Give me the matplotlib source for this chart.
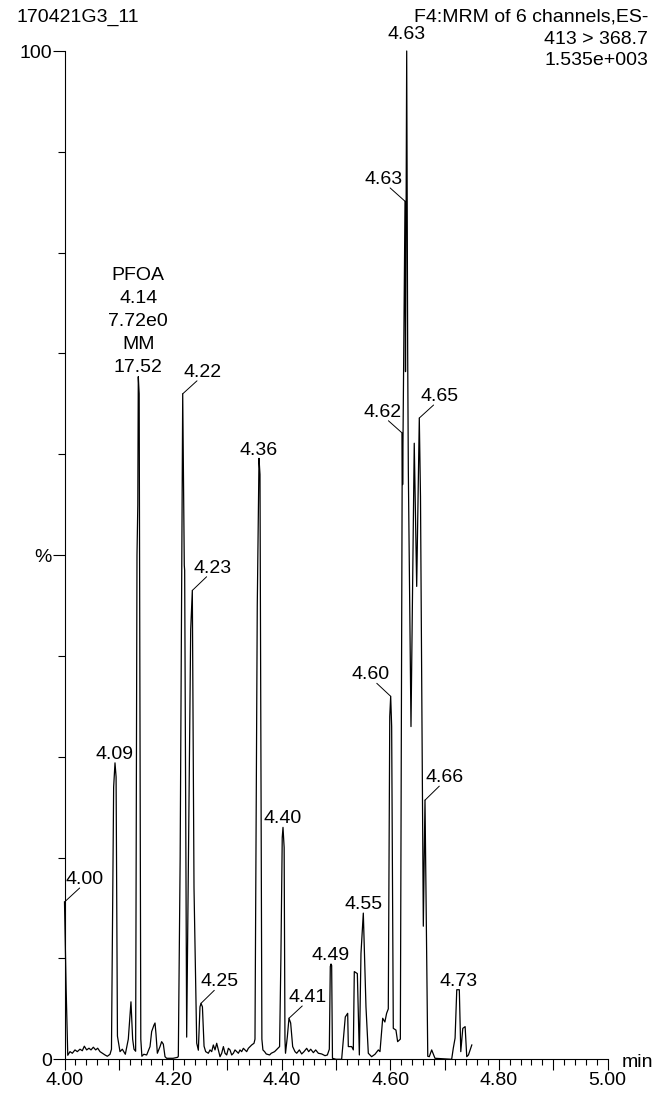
import matplotlib
matplotlib.use("Agg")
import matplotlib.pyplot as plt
from matplotlib.ticker import MultipleLocator, FixedLocator, FuncFormatter

plt.rcParams['font.family'] = ['Liberation Sans', 'DejaVu Sans']
plt.rcParams['font.size'] = 14

# -- trace: retention time (min) and relative intensity (%) --
rt = [
    4.000, 4.003, 4.006, 4.0101, 4.0144, 4.0193, 4.0236, 4.0285, 4.0328, 4.0365, 4.0408,
    4.0451, 4.0488, 4.0531, 4.0574, 4.0611, 4.0654, 4.0697, 4.0746, 4.0789, 4.0838,
    4.0865, 4.0905, 4.0930, 4.0950, 4.0975, 4.1022, 4.1065, 4.1120, 4.1175, 4.1224, 4.1255, 4.1280,
    4.1310, 4.1335, 4.1350, 4.1359, 4.1375, 4.1405, 4.1425, 4.1460, 4.1513, 4.1575, 4.1605,
    4.1648, 4.1667, 4.1685, 4.1710, 4.1759, 4.1789, 4.1820, 4.1851, 4.1881, 4.2000, 4.2085,
    4.2096, 4.2130, 4.2177, 4.2195, 4.2206, 4.2213, 4.2250, 4.2324, 4.2354, 4.2385, 4.2435,
    4.2465, 4.2495, 4.2514, 4.2540, 4.2570, 4.2600,
    4.2649, 4.2680, 4.2711, 4.2741, 4.2772, 4.2803, 4.2833, 4.2864, 4.2895, 4.2926, 4.2956,
    4.2987, 4.3018, 4.3048, 4.3079, 4.3110, 4.3140, 4.3171, 4.3202, 4.3232, 4.3263, 4.3294,
    4.3324, 4.3355, 4.3386, 4.3416, 4.3447, 4.3490,
    4.3508, 4.3550, 4.3582, 4.3600, 4.3635, 4.3654, 4.3685, 4.3715, 4.3777, 4.3808, 4.3869,
    4.3930, 4.3961, 4.3985, 4.4010, 4.4024, 4.4045, 4.4060, 4.4070, 4.4104, 4.4134, 4.4165,
    4.4202, 4.4245,
    4.4276, 4.4325, 4.4368, 4.4411, 4.4460, 4.4497, 4.4534, 4.4583, 4.4626, 4.4675, 4.4736,
    4.4798, 4.4841, 4.4877, 4.4895, 4.4908, 4.4920, 4.4935, 4.5000, 4.5104,
    4.5171, 4.5215, 4.5227, 4.5289, 4.5319, 4.5337, 4.5393, 4.5430, 4.5460, 4.5503, 4.5552,
    4.5595, 4.5656, 4.5718, 4.5780, 4.5810, 4.5860, 4.5900, 4.5932,
    4.5963, 4.5990, 4.6007, 4.6025, 4.6055, 4.6104, 4.6135, 4.6185, 4.6221, 4.6227, 4.6271,
    4.6280, 4.6302, 4.6320, 4.6332, 4.6344, 4.6381, 4.6441, 4.6486, 4.6534, 4.6556, 4.6608,
    4.6639, 4.6690,
    4.6718, 4.6762, 4.6823, 4.7130, 4.7160, 4.7193, 4.7224, 4.7271, 4.7298, 4.7335, 4.7378,
    4.7408, 4.7439, 4.7501,
]
intensity = [
    15.6, 7.0, 0.4, 0.76, 0.6, 0.93, 0.76, 1.0, 0.85, 1.3, 0.93,
    1.1, 0.93, 1.2, 0.93, 1.1, 0.76, 0.6, 0.43, 0.3, 0.5,
    1.0, 27.0, 29.4, 28.0, 2.3, 0.76, 1.0, 0.5, 2.0, 5.7, 2.0, 1.0,
    0.8, 50.0, 55.0, 67.7, 66.0, 2.0, 0.3, 0.5, 0.43, 1.26, 2.75,
    3.4, 3.6, 2.5, 0.6, 1.26, 1.75, 1.5, 0.26, 0.1, 0.1, 0.2,
    0.3, 20.0, 66.0, 55.0, 49.0, 48.5, 2.2, 42.6, 46.5, 17.0, 1.6,
    0.9, 5.2, 5.55, 5.2, 1.3, 0.76,
    0.6, 0.93, 0.76, 1.42, 0.93, 1.59, 0.93, 0.26, 0.6, 1.26, 0.6,
    0.43, 1.09, 0.93, 0.43, 0.6, 0.93, 0.76, 0.6, 0.93, 0.76, 1.09,
    0.93, 0.76, 1.09, 1.26, 1.42, 1.59,
    2.0, 45.0, 59.6, 58.0, 2.0, 0.93, 0.76, 0.53, 0.43, 0.6, 0.76,
    1.09, 1.26, 10.0, 22.0, 23.0, 21.0, 2.0, 0.6, 2.25, 4.07, 3.6,
    1.26, 0.76,
    0.6, 0.93, 0.53, 0.76, 1.09, 0.76, 1.0, 0.66, 0.93, 0.6, 0.53,
    0.36, 0.43, 1.0, 9.2, 9.45, 9.3, 0.1, 0.0, 0.0,
    4.2, 4.56, 1.26, 1.26, 0.93, 8.7, 8.5, 0.43, 10.5, 14.5, 5.2,
    0.6, 0.26, 0.5, 0.93, 0.76, 4.07, 3.7, 4.56,
    5.0, 34.0, 36.0, 33.0, 3.07, 2.9, 1.75, 2.0, 62.1, 57.0, 85.1,
    68.2, 100.0, 70.0, 58.4, 52.0, 33.0, 61.1, 46.9, 63.6, 55.8, 13.2,
    25.7, 0.3,
    0.26, 0.93, 0.1, 0.0, 1.1, 2.1, 6.9, 6.9, 0.76, 3.07, 3.24,
    0.26, 0.43, 1.42,
]

# -- labelled peaks --
peak_rt = [4.000, 4.093, 4.1359, 4.2177, 4.2354, 4.2514, 4.3582, 4.4024, 4.4134,
           4.4908, 4.5503, 4.6007, 4.6221, 4.6271, 4.6302, 4.6534, 4.6639, 4.7256]
peak_pct = [15.6, 29.4, 67.7, 66.0, 46.5, 5.55, 59.6, 23.0, 4.07,
            9.45, 14.5, 36.0, 62.1, 85.1, 100.0, 63.6, 25.7, 6.9]
peak_text = ["4.00", "4.09", "PFOA\n4.14\n7.72e0\nMM\n17.52", "4.22", "4.23", "4.25",
             "4.36", "4.40", "4.41", "4.49", "4.55", "4.60", "4.62", "4.63", "4.63",
             "4.65", "4.66", "4.73"]

x_ticks = [4.0, 4.1, 4.2, 4.3, 4.4, 4.5, 4.6, 4.7, 4.8, 4.9, 5.0]
y_ticks = [0, 50, 100]
y_ticklabels = ["0", "%", "100"]

# label placement in pixels (dx, dy) and leader start on text box (None = no leader)
lab_dx = [20.5, 0, 0, 20, 20, 19, 0, 0, 19, 0, 0, -20, -20, -21, 0, 20, 20, 0]
lab_dy = [18, 4, 5, 17, 17.7, 17, 3.5, 4, 16.3, 3.7, 4, 17, 16.4, 17.3, 12, 17, 18, 3.7]
lab_rel = [0.36, None, None, 0.35, 0.35, 0.35, None, None, 0.35, None, None,
           0.66, 0.66, 0.66, None, 0.35, 0.35, None]
LINE_STEP = 23

W, H = 655, 1096
fig = plt.figure(figsize=(W / 100, H / 100), dpi=100)
ax = fig.add_axes([64.5 / W, (H - 1059.3) / H, 543 / W, (1059.3 - 51) / H])

ax.plot(rt, intensity, color='black', lw=0.9, clip_on=False)
ax.set_xlim(4.0, 5.0)
ax.set_ylim(0, 100)

for s in ['top', 'right']:
    ax.spines[s].set_visible(False)
for s in ['left', 'bottom']:
    ax.spines[s].set_linewidth(0.8)

ax.xaxis.set_major_locator(FixedLocator(x_ticks))
ax.xaxis.set_minor_locator(MultipleLocator(0.02))
ax.xaxis.set_major_formatter(FuncFormatter(
    lambda v, p: f"{v:.2f}" if round(v * 10) % 2 == 0 else ""))
ax.yaxis.set_major_locator(FixedLocator(y_ticks))
ax.yaxis.set_minor_locator(MultipleLocator(10))
ax.set_yticklabels(y_ticklabels)

ax.tick_params(axis='x', which='major', direction='out', length=8, width=0.8, pad=1.5, labelsize=14)
ax.tick_params(axis='x', which='minor', direction='out', length=4.3, width=0.8)
ax.tick_params(axis='y', which='major', direction='out', length=8.3, width=0.8, pad=0.7, labelsize=14)
ax.tick_params(axis='y', which='minor', direction='out', length=4.8, width=0.8)

# peak labels
for i in range(len(peak_rt)):
    lines = peak_text[i].split("\n")[::-1]
    for j, line in enumerate(lines):
        arrow = None
        if lab_rel[i] is not None and j == 0:
            arrow = dict(arrowstyle='-', color='black', lw=0.7, shrinkA=0, shrinkB=0,
                         patchA=None, relpos=(lab_rel[i], 0))
        ax.annotate(line, xy=(peak_rt[i], peak_pct[i]),
                    xytext=(lab_dx[i], lab_dy[i] + LINE_STEP * j),
                    textcoords='offset pixels', ha='center', va='baseline',
                    fontsize=14, arrowprops=arrow, annotation_clip=False)

# header and axis unit
fig.text(16 / W, 1 - 22 / H, "170421G3_11", ha='left', va='baseline', fontsize=14)
fig.text(648 / W, 1 - 22 / H, "F4:MRM of 6 channels,ES-", ha='right', va='baseline', fontsize=14)
fig.text(648 / W, 1 - 44 / H, "413 > 368.7", ha='right', va='baseline', fontsize=14)
fig.text(648 / W, 1 - 65 / H, "1.535e+003", ha='right', va='baseline', fontsize=14)
fig.text(622 / W, 1 - 1067 / H, "min", ha='left', va='baseline', fontsize=14)

fig.savefig("out.png", dpi=100)
